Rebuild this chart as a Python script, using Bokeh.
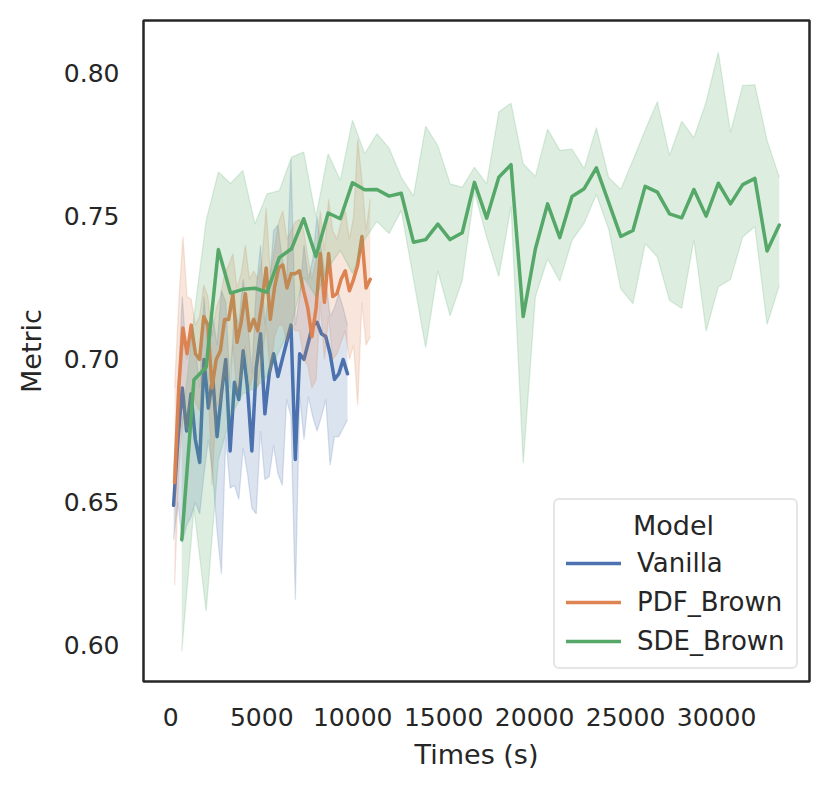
from bokeh.plotting import figure
from bokeh.models import ColumnDataSource, Legend, LegendItem, FixedTicker, PrintfTickFormatter, Range1d, Label
from bokeh.embed import file_html
from bokeh.resources import INLINE

# ---------------- data ----------------
vanilla_time = [154, 393, 632, 871, 1110, 1349, 1588, 1827, 2066, 2305, 2544, 2783, 3022, 3261,
                3500, 3739, 3978, 4217, 4456, 4695, 4934, 5173, 5412, 5651, 5890, 6129, 6368,
                6607, 6846, 7085, 7324, 7563, 7802, 8041, 8280, 8519, 8758, 8997, 9236, 9475, 9714]
vanilla_mean = [0.649, 0.672, 0.690, 0.675, 0.688, 0.672, 0.664, 0.700, 0.683, 0.694, 0.673,
                0.688, 0.700, 0.668, 0.692, 0.686, 0.703, 0.690, 0.668, 0.697, 0.709, 0.681,
                0.695, 0.702, 0.694, 0.700, 0.706, 0.712, 0.665, 0.702, 0.700, 0.706, 0.712,
                0.713, 0.709, 0.708, 0.702, 0.693, 0.695, 0.700, 0.695]
vanilla_low = [0.637, 0.650, 0.636, 0.642, 0.645, 0.650, 0.646, 0.660, 0.672, 0.660, 0.640,
               0.625, 0.673, 0.655, 0.656, 0.651, 0.669, 0.660, 0.648, 0.646, 0.675, 0.658,
               0.659, 0.670, 0.660, 0.656, 0.686, 0.680, 0.616, 0.687, 0.672, 0.687, 0.680,
               0.675, 0.680, 0.686, 0.663, 0.673, 0.673, 0.676, 0.679]
vanilla_high = [0.661, 0.690, 0.722, 0.700, 0.712, 0.705, 0.690, 0.722, 0.700, 0.715, 0.705,
                0.724, 0.720, 0.690, 0.718, 0.712, 0.728, 0.715, 0.695, 0.725, 0.740, 0.712,
                0.725, 0.745, 0.747, 0.735, 0.727, 0.770, 0.712, 0.722, 0.740, 0.728, 0.735,
                0.750, 0.738, 0.728, 0.715, 0.718, 0.723, 0.718, 0.712]

pdf_time = [209, 438, 667, 895, 1124, 1353, 1582, 1811, 2039, 2268, 2497, 2726, 2955, 3183,
            3412, 3641, 3870, 4099, 4327, 4556, 4785, 5014, 5243, 5471, 5700, 5929, 6158,
            6387, 6615, 6844, 7073, 7302, 7531, 7759, 7988, 8217, 8446, 8675, 8903, 9132,
            9361, 9590, 9819, 10047, 10276, 10505, 10734, 10963]
pdf_mean = [0.657, 0.690, 0.711, 0.702, 0.712, 0.702, 0.700, 0.715, 0.712, 0.690,
            0.700, 0.703, 0.714, 0.714, 0.723, 0.706, 0.713, 0.723, 0.710, 0.714,
            0.710, 0.720, 0.732, 0.714, 0.725, 0.732, 0.733, 0.725, 0.730, 0.730,
            0.731, 0.724, 0.718, 0.708, 0.718, 0.737, 0.720, 0.737, 0.722, 0.723,
            0.728, 0.731, 0.724, 0.728, 0.733, 0.743, 0.725, 0.728]
pdf_low = [0.621, 0.660, 0.680, 0.675, 0.690, 0.685, 0.682, 0.698, 0.695, 0.656,
           0.684, 0.684, 0.695, 0.692, 0.705, 0.688, 0.694, 0.705, 0.690, 0.695,
           0.690, 0.700, 0.712, 0.695, 0.708, 0.712, 0.712, 0.706, 0.712, 0.710,
           0.710, 0.700, 0.698, 0.690, 0.693, 0.720, 0.700, 0.715, 0.700, 0.702,
           0.706, 0.710, 0.700, 0.705, 0.684, 0.720, 0.705, 0.708]
pdf_high = [0.690, 0.720, 0.743, 0.722, 0.721, 0.712, 0.715, 0.726, 0.722, 0.708,
            0.718, 0.722, 0.730, 0.733, 0.737, 0.725, 0.730, 0.740, 0.728, 0.731,
            0.728, 0.735, 0.753, 0.730, 0.739, 0.748, 0.752, 0.742, 0.745, 0.748,
            0.749, 0.745, 0.736, 0.728, 0.735, 0.752, 0.738, 0.756, 0.745, 0.742,
            0.748, 0.752, 0.742, 0.750, 0.777, 0.763, 0.745, 0.756]

sde_time = [604, 1274, 1945, 2615, 3285, 3956, 4626, 5296, 5966, 6637, 7307, 7977, 8648,
            9318, 9988, 10659, 11329, 11999, 12669, 13340, 14010, 14680, 15351, 16021,
            16691, 17362, 18032, 18702, 19372, 20043, 20713, 21383, 22054, 22724, 23394,
            24065, 24735, 25405, 26075, 26746, 27416, 28086, 28757, 29427, 30097, 30768,
            31438, 32108, 32778, 33449]
sde_mean = [0.637, 0.6929, 0.6973, 0.7384, 0.7232, 0.7245, 0.7249, 0.7235, 0.7356, 0.7387,
            0.7492, 0.7360, 0.7512, 0.7492, 0.7618, 0.7593, 0.7594, 0.7571, 0.7581, 0.7410,
            0.7419, 0.7473, 0.7419, 0.7443, 0.7619, 0.7494, 0.7637, 0.7681, 0.7150, 0.7387,
            0.7544, 0.7426, 0.7570, 0.7597, 0.7670, 0.7550, 0.7430, 0.7451, 0.7605, 0.7585,
            0.7509, 0.7495, 0.7594, 0.7501, 0.7616, 0.7544, 0.7611, 0.7633, 0.7379, 0.7470]
sde_low = [0.598, 0.648, 0.612, 0.665, 0.680, 0.688, 0.690, 0.694, 0.703, 0.712,
           0.7288, 0.722, 0.732, 0.7381, 0.730, 0.742, 0.7483, 0.7440, 0.7521, 0.7282,
           0.7041, 0.7311, 0.7153, 0.7276, 0.7585, 0.7428, 0.7290, 0.7535, 0.6637, 0.7220,
           0.7352, 0.7274, 0.7416, 0.7477, 0.7577, 0.7457, 0.7247, 0.7195, 0.7405, 0.7358,
           0.7206, 0.7179, 0.7419, 0.7099, 0.7253, 0.7280, 0.7428, 0.7465, 0.7122, 0.7259]
sde_high = [0.676, 0.715, 0.7486, 0.7655, 0.7615, 0.7661, 0.7474, 0.7579, 0.759, 0.7707,
            0.7725, 0.7498, 0.7719, 0.7626, 0.7836, 0.7719, 0.7789, 0.7739, 0.7637, 0.7571,
            0.7815, 0.7747, 0.7614, 0.7602, 0.7672, 0.7614, 0.7865, 0.7896, 0.7684, 0.7640,
            0.7805, 0.7731, 0.7735, 0.7667, 0.7810, 0.7637, 0.7594, 0.7696, 0.7801, 0.7901,
            0.7713, 0.7833, 0.7775, 0.7900, 0.8074, 0.7794, 0.7958, 0.7960, 0.7766, 0.7637]

models = ["Vanilla", "PDF_Brown", "SDE_Brown"]
colors = ["#4c72b0", "#dd8452", "#55a868"]
legend_title = "Model"
x_ticks = [0, 5000, 10000, 15000, 20000, 25000, 30000]
y_ticks = [0.60, 0.65, 0.70, 0.75, 0.80]

series = [
    (vanilla_time, vanilla_mean, vanilla_low, vanilla_high),
    (pdf_time, pdf_mean, pdf_low, pdf_high),
    (sde_time, sde_mean, sde_low, sde_high),
]

# ---------------- figure ----------------
FONT = "DejaVu Sans"
TXT = "#262626"

p = figure(width=822, height=785, output_backend="svg", toolbar_location=None,
           x_range=Range1d(-1500, 35110), y_range=Range1d(0.5874, 0.8185),
           min_border_left=143, min_border_right=13, min_border_top=20, min_border_bottom=104)

p.xgrid.visible = False
p.ygrid.visible = False
p.outline_line_color = TXT
p.outline_line_width = 2.5
p.outline_line_alpha = 1.0
p.background_fill_color = "white"
p.border_fill_color = "white"

for ax in (p.xaxis[0], p.yaxis[0]):
    ax.axis_line_color = None
    ax.major_tick_line_color = None
    ax.minor_tick_line_color = None
    ax.major_tick_out = 0
    ax.major_tick_in = 0
    ax.minor_tick_out = 0
    ax.minor_tick_in = 0
    ax.major_label_text_font = FONT
    ax.major_label_text_font_size = "25px"
    ax.major_label_text_color = TXT
    ax.axis_label_text_font = FONT
    ax.axis_label_text_font_size = "27px"
    ax.axis_label_text_font_style = "normal"
    ax.axis_label_text_color = TXT

p.xaxis.ticker = FixedTicker(ticks=x_ticks)
p.yaxis.ticker = FixedTicker(ticks=y_ticks)
p.yaxis.formatter = PrintfTickFormatter(format="%.2f")
p.xaxis.axis_label = "Times (s)"
p.yaxis.axis_label = "Metric"
p.xaxis.major_label_standoff = 26
p.xaxis.axis_label_standoff = 10
p.yaxis.major_label_standoff = 24
p.yaxis.axis_label_standoff = 14

items = []
for name, color, (t, m, lo, hi) in zip(models, colors, series):
    src = ColumnDataSource(dict(t=t, m=m, lo=lo, hi=hi))
    ln = p.line("t", "m", source=src, line_color=color, line_width=3.5,
                line_join="round", line_cap="round")
    p.varea(x="t", y1="lo", y2="hi", source=src, fill_color=color, fill_alpha=0.2)
    p.line("t", "lo", source=src, line_color=color, line_alpha=0.2, line_width=1.3)
    p.line("t", "hi", source=src, line_color=color, line_alpha=0.2, line_width=1.3)
    items.append(LegendItem(label=name, renderers=[ln]))

# legend: title slot kept (blank) so the box has room; centred title drawn as a label
legend = Legend(items=items, location=(410, 12), title=" ",
                title_text_font=FONT, title_text_font_size="27px", title_text_color=TXT,
                title_text_font_style="normal",
                label_text_font=FONT, label_text_font_size="26px", label_text_color=TXT,
                glyph_width=55, glyph_height=20, label_standoff=16, padding=11,
                spacing=9, title_standoff=6, margin=0, border_radius=6,
                border_line_color="#cccccc", border_line_width=2,
                background_fill_color="white", background_fill_alpha=0.0)
p.add_layout(legend)

title_label = Label(x=530, y=156, x_units="screen", y_units="screen", text=legend_title,
                    text_align="center", text_baseline="middle", level="overlay",
                    text_font=FONT, text_font_size="27px", text_color=TXT)
p.add_layout(title_label)

open("out.html", "w").write(file_html(p, INLINE))
